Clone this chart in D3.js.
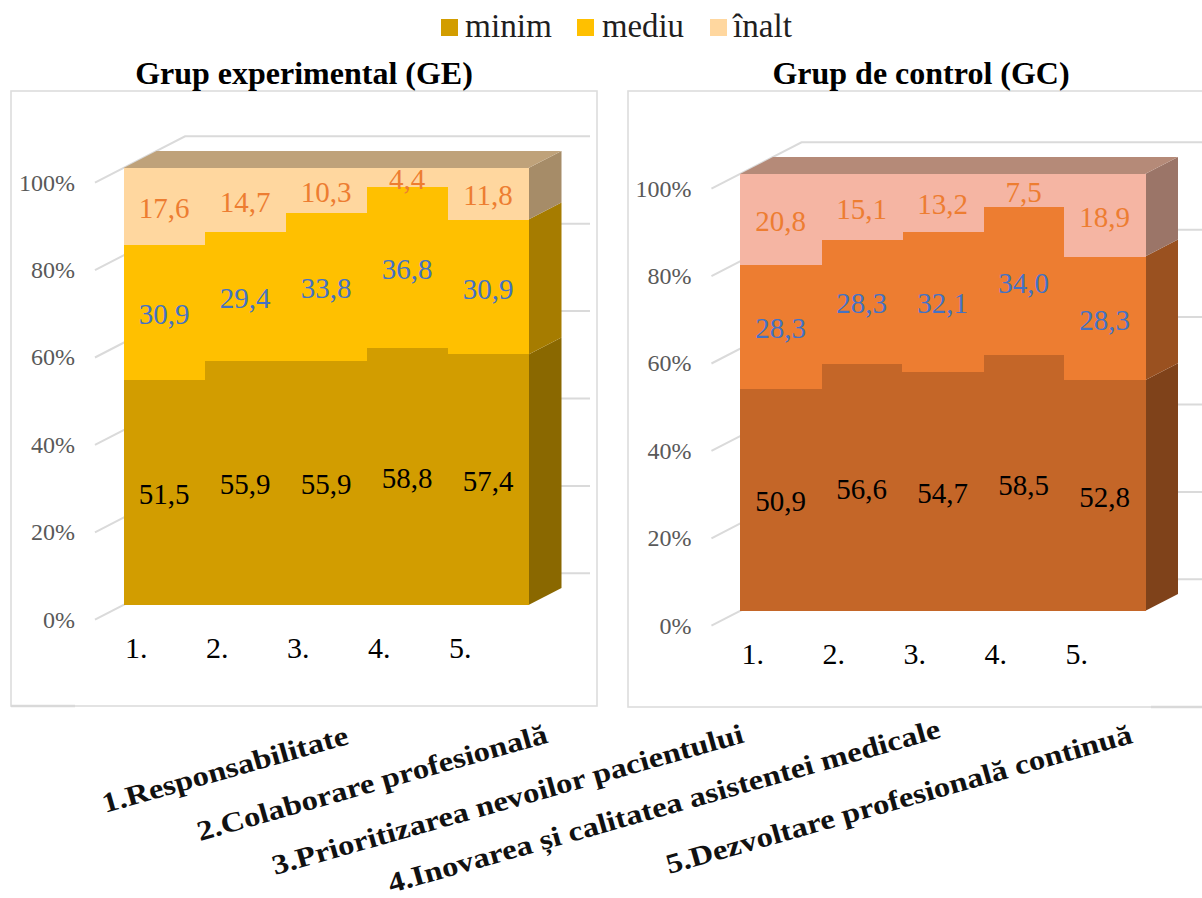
<!DOCTYPE html>
<html lang="ro">
<head>
<meta charset="utf-8">
<title>Grup experimental și Grup de control</title>
<script src="https://cdn.jsdelivr.net/npm/d3@7/dist/d3.min.js"></script>
<style>
  html, body { margin: 0; padding: 0; background: #fff; }
  svg { display: block; }
  text { font-family: "Liberation Serif", serif; }
</style>
</head>
<body>
<svg id="chart" width="1202" height="898"></svg>
<script>
// Percent shares per competency, one list per level and group
const categories = ["1.", "2.", "3.", "4.", "5."];
const levels = ["minim", "mediu", "înalt"];
const geMinim = [51.5, 55.9, 55.9, 58.8, 57.4];
const geMediu = [30.9, 29.4, 33.8, 36.8, 30.9];
const geInalt = [17.6, 14.7, 10.3, 4.4, 11.8];
const gcMinim = [50.9, 56.6, 54.7, 58.5, 52.8];
const gcMediu = [28.3, 28.3, 32.1, 34.0, 28.3];
const gcInalt = [20.8, 15.1, 13.2, 7.5, 18.9];
const percentTicks = [0, 20, 40, 60, 80, 100];
const competencies = [
  "1.Responsabilitate",
  "2.Colaborare profesională",
  "3.Prioritizarea nevoilor pacientului",
  "4.Inovarea și calitatea asistentei medicale",
  "5.Dezvoltare profesională continuă"
];

const svg = d3.select("#chart");
const decimal = d3.format(".1f");
const comma = v => decimal(v).replace(".", ",");

// Legend along the top edge
const legendColors = ["#D29D00", "#FFC000", "#FFD79F"];
const legendX = [441, 577, 710];
const legendTextX = [24, 25, 23];
const legendWidths = [87, 82, 59];
const legend = svg.append("g").selectAll("g").data(levels).join("g")
  .attr("transform", (d, i) => `translate(${legendX[i]},0)`);
legend.append("rect").attr("y", 19).attr("width", 17).attr("height", 17)
  .attr("fill", (d, i) => legendColors[i]);
legend.append("text").attr("x", (d, i) => legendTextX[i]).attr("y", 37)
  .attr("font-size", 33).attr("fill", "#1f1f1f")
  .attr("textLength", (d, i) => legendWidths[i]).attr("lengthAdjust", "spacingAndGlyphs")
  .text(d => d);

function drawPanel(p) {
  const g = svg.append("g");
  const values = [p.minim, p.mediu, p.inalt];

  g.append("rect")
    .attr("x", p.frame[0]).attr("y", p.frame[1])
    .attr("width", p.frame[2]).attr("height", p.frame[3])
    .attr("fill", "#fff").attr("stroke", "#DDDDDD").attr("stroke-width", 1.6);
  // The lower border is heavier over one stretch of each panel
  g.append("line").attr("x1", p.heavyEdge[0]).attr("x2", p.heavyEdge[1])
    .attr("y1", p.frame[1] + p.frame[3]).attr("y2", p.frame[1] + p.frame[3])
    .attr("stroke", "#D9D9D9").attr("stroke-width", 2.5);

  g.append("text").attr("x", p.titleX).attr("y", 84)
    .attr("text-anchor", "middle").attr("font-size", 32).attr("font-weight", 700)
    .attr("fill", "#000").text(p.title);

  const x = d3.scaleBand().domain(categories).range([p.left, p.left + 405]);
  const y = d3.scaleLinear().domain([0, 100]).range([p.base, p.base - 437]);
  // Oblique depth: 0 is the front of the bars, 1 their back
  const zx = d3.scaleLinear().domain([0, 1]).range([0, 33]);
  const zy = d3.scaleLinear().domain([0, 1]).range([0, -17]);
  const pt = (px, v, z) => [px + zx(z), y(v) + zy(z)];
  const wallFront = -0.865, wallBack = 1.865;
  const line = d3.line();

  // Gridlines on the side wall and on the back wall
  const grid = g.append("g").attr("fill", "none").attr("stroke", "#DADADA").attr("stroke-width", 2);
  percentTicks.forEach(t => {
    grid.append("path").attr("d", line([
      pt(p.left, t, wallFront), pt(p.left, t, wallBack), [p.gridEnd, pt(p.left, t, wallBack)[1]]
    ]));
  });

  g.append("g").selectAll("text").data(percentTicks).join("text")
    .attr("x", pt(p.left, 0, wallFront)[0] - 20)
    .attr("y", d => pt(p.left, d, wallFront)[1])
    .attr("dy", "0.33em").attr("text-anchor", "end")
    .attr("font-size", 24).attr("fill", "#595959")
    .text(d => d + "%");

  // Cumulative stack over the three levels
  const rows = categories.map((c, i) => ({ c, a: values[0][i], b: values[1][i], d: values[2][i] }));
  const stacked = d3.stack().keys(["a", "b", "d"])
    .offset(d3.stackOffsetExpand)(rows);
  const right = p.left + 405;

  // Right-hand end of the last column, one face per level
  stacked.forEach((s, k) => {
    const [v0, v1] = s[s.length - 1].map(v => v * 100);
    g.append("path").attr("fill", p.side[k]).attr("d", line([
      pt(right, v0, 0), pt(right, v1, 0), pt(right, v1, 1), pt(right, v0, 1)
    ]) + "Z");
  });
  g.append("path").attr("fill", p.top).attr("d", line([
    pt(p.left, 100, 0), pt(right, 100, 0), pt(right, 100, 1), pt(p.left, 100, 1)
  ]) + "Z");

  // Front faces
  stacked.forEach((s, k) => {
    g.append("g").attr("fill", p.front[k]).attr("shape-rendering", "crispEdges")
      .selectAll("rect").data(s).join("rect")
      .attr("x", d => x(d.data.c))
      .attr("width", x.bandwidth() + 0.5)
      .attr("y", d => y(d[1] * 100))
      .attr("height", d => y(d[0] * 100) - y(d[1] * 100));
  });

  // Value labels, centred on each segment
  stacked.forEach((s, k) => {
    g.append("g").attr("fill", p.label[k]).attr("font-size", 29).attr("text-anchor", "middle")
      .selectAll("text").data(s).join("text")
      .attr("x", d => x(d.data.c) + x.bandwidth() / 2)
      .attr("y", d => y((d[0] + d[1]) * 50))
      .attr("dy", "0.4em")
      .text((d, i) => comma(values[k][i]));
  });

  // Category numbers under the columns
  g.append("g").selectAll("text").data(categories).join("text")
    .attr("x", d => x(d) + 1.5).attr("y", p.base + 53)
    .attr("font-size", 30).attr("fill", "#000").text(d => d);
}

const gePanel = {
  title: "Grup experimental (GE)", titleX: 304,
  frame: [11, 91, 586, 615], left: 123.5, base: 605, gridEnd: 590, heavyEdge: [11, 75],
  minim: geMinim, mediu: geMediu, inalt: geInalt,
  front: ["#D29D00", "#FFC000", "#FFD79F"],
  side: ["#8A6800", "#A67C00", "#A68C68"],
  top: "#BFA27A",
  label: ["#000000", "#4472C4", "#ED7D31"]
};
const gcPanel = {
  title: "Grup de control (GC)", titleX: 921,
  frame: [628, 91, 590, 616], left: 740, base: 611, gridEnd: 1210, heavyEdge: [1151, 1202],
  minim: gcMinim, mediu: gcMediu, inalt: gcInalt,
  front: ["#C46628", "#ED7D31", "#F5B5A3"],
  side: ["#7F421A", "#9A5120", "#9B7568"],
  top: "#B58A78",
  label: ["#000000", "#4472C4", "#ED7D31"]
};
drawPanel(gePanel);
drawPanel(gcPanel);

// Slanted key naming the five numbered competencies
const keyAnchors = [[105, 813], [200, 841], [275, 875], [391, 893], [669, 874]];
svg.append("g").selectAll("text").data(competencies).join("text")
  .attr("transform", (d, i) => `translate(${keyAnchors[i][0]},${keyAnchors[i][1]}) rotate(-15.8) scale(1.165,1)`)
  .attr("font-size", 28).attr("font-weight", 700).attr("fill", "#111")
  .text(d => d);
</script>
</body>
</html>
